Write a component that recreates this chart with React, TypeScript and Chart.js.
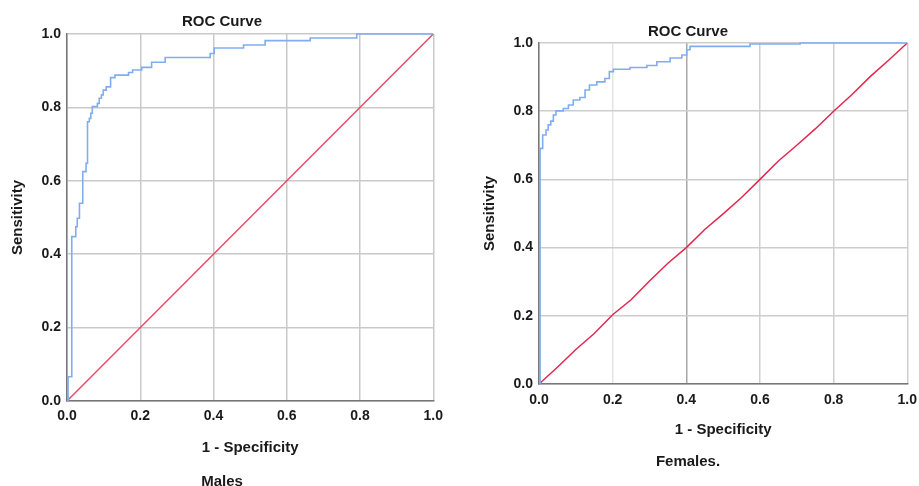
import React, { useEffect, useRef } from "react";
import { Chart, registerables } from "chart.js";

Chart.register(...registerables);

// ---------- data ----------
const chartTitle = "ROC Curve";
const xAxisTitle = "1 - Specificity";
const yAxisTitle = "Sensitivity";
const leftCaption = "Males";
const rightCaption = "Females.";

// Males ROC curve (corner points)
const malesFpr = [
  0, 0.003, 0.003, 0.013, 0.013, 0.024, 0.024, 0.028, 0.028, 0.034, 0.034, 0.043, 0.043,
  0.052, 0.052, 0.056, 0.056, 0.061, 0.061, 0.065, 0.065, 0.069, 0.069, 0.083, 0.083,
  0.088, 0.088, 0.094, 0.094, 0.099, 0.099, 0.107, 0.107, 0.119, 0.119, 0.131, 0.131,
  0.168, 0.168, 0.179, 0.179, 0.204, 0.204, 0.231, 0.231, 0.268, 0.268, 0.391, 0.391,
  0.402, 0.402, 0.482, 0.482, 0.541, 0.541, 0.664, 0.664, 0.791, 0.791, 1.0,
];
const malesTpr = [
  0, 0, 0.066, 0.066, 0.448, 0.448, 0.475, 0.475, 0.498, 0.498, 0.539, 0.539, 0.625,
  0.625, 0.648, 0.648, 0.761, 0.761, 0.77, 0.77, 0.784, 0.784, 0.802, 0.802, 0.811,
  0.811, 0.825, 0.825, 0.834, 0.834, 0.847, 0.847, 0.856, 0.856, 0.881, 0.881, 0.888,
  0.888, 0.895, 0.895, 0.902, 0.902, 0.909, 0.909, 0.923, 0.923, 0.936, 0.936, 0.947,
  0.947, 0.962, 0.962, 0.97, 0.97, 0.982, 0.982, 0.989, 0.989, 1.0, 1.0,
];
const malesRefFpr = [0, 1];
const malesRefTpr = [0, 1];

// Females ROC curve (corner points)
const femalesFpr = [
  0, 0.003, 0.003, 0.01, 0.01, 0.019, 0.019, 0.025, 0.025, 0.032, 0.032, 0.039, 0.039,
  0.046, 0.046, 0.066, 0.066, 0.08, 0.08, 0.093, 0.093, 0.111, 0.111, 0.125, 0.125,
  0.137, 0.137, 0.157, 0.157, 0.179, 0.179, 0.191, 0.191, 0.202, 0.202, 0.247, 0.247,
  0.293, 0.293, 0.32, 0.32, 0.356, 0.356, 0.388, 0.388, 0.401, 0.401, 0.41, 0.41,
  0.573, 0.573, 0.709, 0.709, 1.0,
];
const femalesTpr = [
  0, 0, 0.691, 0.691, 0.73, 0.73, 0.745, 0.745, 0.76, 0.76, 0.771, 0.771, 0.789,
  0.789, 0.801, 0.801, 0.808, 0.808, 0.818, 0.818, 0.833, 0.833, 0.84, 0.84, 0.862,
  0.862, 0.877, 0.877, 0.886, 0.886, 0.896, 0.896, 0.916, 0.916, 0.923, 0.923, 0.928,
  0.928, 0.934, 0.934, 0.945, 0.945, 0.956, 0.956, 0.965, 0.965, 0.98, 0.98, 0.99,
  0.99, 0.997, 0.997, 1.0, 1.0,
];
const femalesRefFpr = [
  0, 0.05, 0.1, 0.15, 0.2, 0.25, 0.3, 0.35, 0.4, 0.45, 0.5, 0.55, 0.6, 0.65, 0.7, 0.75,
  0.8, 0.85, 0.9, 0.95, 1.0,
];
const femalesRefTpr = [
  0, 0.049, 0.101, 0.148, 0.203, 0.247, 0.302, 0.354, 0.4, 0.453, 0.499, 0.547, 0.6,
  0.654, 0.7, 0.748, 0.8, 0.849, 0.902, 0.95, 1.0,
];

// ---------- styling ----------
const FONT = "'Liberation Sans', Arial, Helvetica, sans-serif";
const BLUE = "#80adf0";
const RED_L = "#ea4a69";
const RED_R = "#e4264f";

type Opts = {
  fpr: number[];
  tpr: number[];
  refFpr: number[];
  refTpr: number[];
  red: string;
  titleTop: number;
  titleBottom: number;
  yAxisW: number;
  yTitlePad: number;
  xAxisH: number;
  xTickPad: number;
  xTitlePad: number;
  tickSize: number;
  xGridColor: (v: number) => string;
  yGridColor: (v: number) => string;
};

function pts(xs: number[], ys: number[]) {
  return xs.map((x, i) => ({ x, y: ys[i] }));
}

function buildConfig(o: Opts): any {
  const titleFont = { family: FONT, size: 15, weight: "bold", lineHeight: 1.2 };
  const tickFont = { family: FONT, size: o.tickSize, weight: "bold", lineHeight: 1.2 };
  return {
    type: "line",
    data: {
      datasets: [
        {
          data: pts(o.fpr, o.tpr),
          borderColor: BLUE,
          borderWidth: 1.6,
          pointRadius: 0,
          tension: 0,
          clip: false,
        },
        {
          data: pts(o.refFpr, o.refTpr),
          borderColor: o.red,
          borderWidth: 1.5,
          pointRadius: 0,
          tension: 0,
          clip: false,
        },
      ],
    },
    options: {
      responsive: false,
      animation: false,
      events: [],
      layout: { padding: 0, autoPadding: false },
      plugins: {
        legend: { display: false },
        tooltip: { enabled: false },
        title: {
          display: true,
          text: chartTitle,
          color: "#1a1a1a",
          font: titleFont,
          padding: { top: o.titleTop, bottom: o.titleBottom },
        },
      },
      scales: {
        x: {
          type: "linear",
          min: 0,
          max: 1,
          ticks: {
            stepSize: 0.2,
            callback: (v: any) => Number(v).toFixed(1),
            padding: o.xTickPad,
            font: tickFont,
            color: "#1a1a1a",
            maxRotation: 0,
          },
          grid: {
            drawTicks: false,
            lineWidth: 1.5,
            color: (ctx: any) => o.xGridColor(ctx.tick ? ctx.tick.value : 0),
          },
          border: { display: true, color: "#777777", width: 1.5 },
          title: {
            display: true,
            text: xAxisTitle,
            color: "#1a1a1a",
            font: titleFont,
            padding: { top: 0, bottom: o.xTitlePad },
          },
          afterFit: (s: any) => {
            s.height = o.xAxisH;
          },
        },
        y: {
          type: "linear",
          min: 0,
          max: 1,
          ticks: {
            stepSize: 0.2,
            callback: (v: any) => Number(v).toFixed(1),
            padding: 6,
            font: tickFont,
            color: "#1a1a1a",
          },
          grid: {
            drawTicks: false,
            lineWidth: 1.5,
            color: (ctx: any) => o.yGridColor(ctx.tick ? ctx.tick.value : 0),
          },
          border: { display: true, color: "#777777", width: 1.5 },
          title: {
            display: true,
            text: yAxisTitle,
            color: "#1a1a1a",
            font: titleFont,
            padding: { top: o.yTitlePad, bottom: 0 },
          },
          afterFit: (s: any) => {
            s.width = o.yAxisW;
          },
        },
      },
    },
  };
}

function RocChart(props: { opts: Opts; left: number; width: number; height: number }) {
  const ref = useRef<HTMLCanvasElement | null>(null);
  useEffect(() => {
    if (!ref.current) return;
    const chart = new Chart(ref.current, buildConfig(props.opts));
    return () => chart.destroy();
  }, []);
  return (
    <canvas
      ref={ref}
      width={props.width}
      height={props.height}
      style={{
        position: "absolute",
        left: props.left,
        top: 0,
        width: props.width,
        height: props.height,
      }}
    />
  );
}

const near = (a: number, b: number) => Math.abs(a - b) < 1e-6;

const leftOpts: Opts = {
  fpr: malesFpr,
  tpr: malesTpr,
  refFpr: malesRefFpr,
  refTpr: malesRefTpr,
  red: RED_L,
  titleTop: 13,
  titleBottom: 3,
  yAxisW: 73,
  yTitlePad: 15,
  xAxisH: 85,
  xTickPad: 7,
  xTitlePad: 29,
  tickSize: 14,
  xGridColor: () => "#c9c9c9",
  yGridColor: () => "#c9c9c9",
};

const rightOpts: Opts = {
  fpr: femalesFpr,
  tpr: femalesTpr,
  refFpr: femalesRefFpr,
  refTpr: femalesRefTpr,
  red: RED_R,
  titleTop: 23,
  titleBottom: 2,
  yAxisW: 88,
  yTitlePad: 30,
  xAxisH: 102,
  xTickPad: 8,
  xTitlePad: 47,
  tickSize: 14,
  xGridColor: (v) => (near(v, 0.4) ? "#a8a8a8" : near(v, 0.2) ? "#e4e4e4" : "#cfcfcf"),
  yGridColor: () => "#cdcdcd",
};

const captionStyle: React.CSSProperties = {
  position: "absolute",
  transform: "translate(-50%, -50%)",
  font: `bold 15px ${FONT}`,
  color: "#1a1a1a",
  whiteSpace: "nowrap",
};

export default function App() {
  return (
    <div
      style={{
        position: "absolute",
        left: 0,
        top: 0,
        width: 919,
        height: 486,
        background: "#ffffff",
        overflow: "hidden",
      }}
    >
      <RocChart opts={leftOpts} left={-6} width={456} height={486} />
      <RocChart opts={rightOpts} left={451} width={474} height={486} />
      <div style={{ ...captionStyle, left: 222, top: 480 }}>{leftCaption}</div>
      <div style={{ ...captionStyle, left: 688, top: 460 }}>{rightCaption}</div>
    </div>
  );
}
